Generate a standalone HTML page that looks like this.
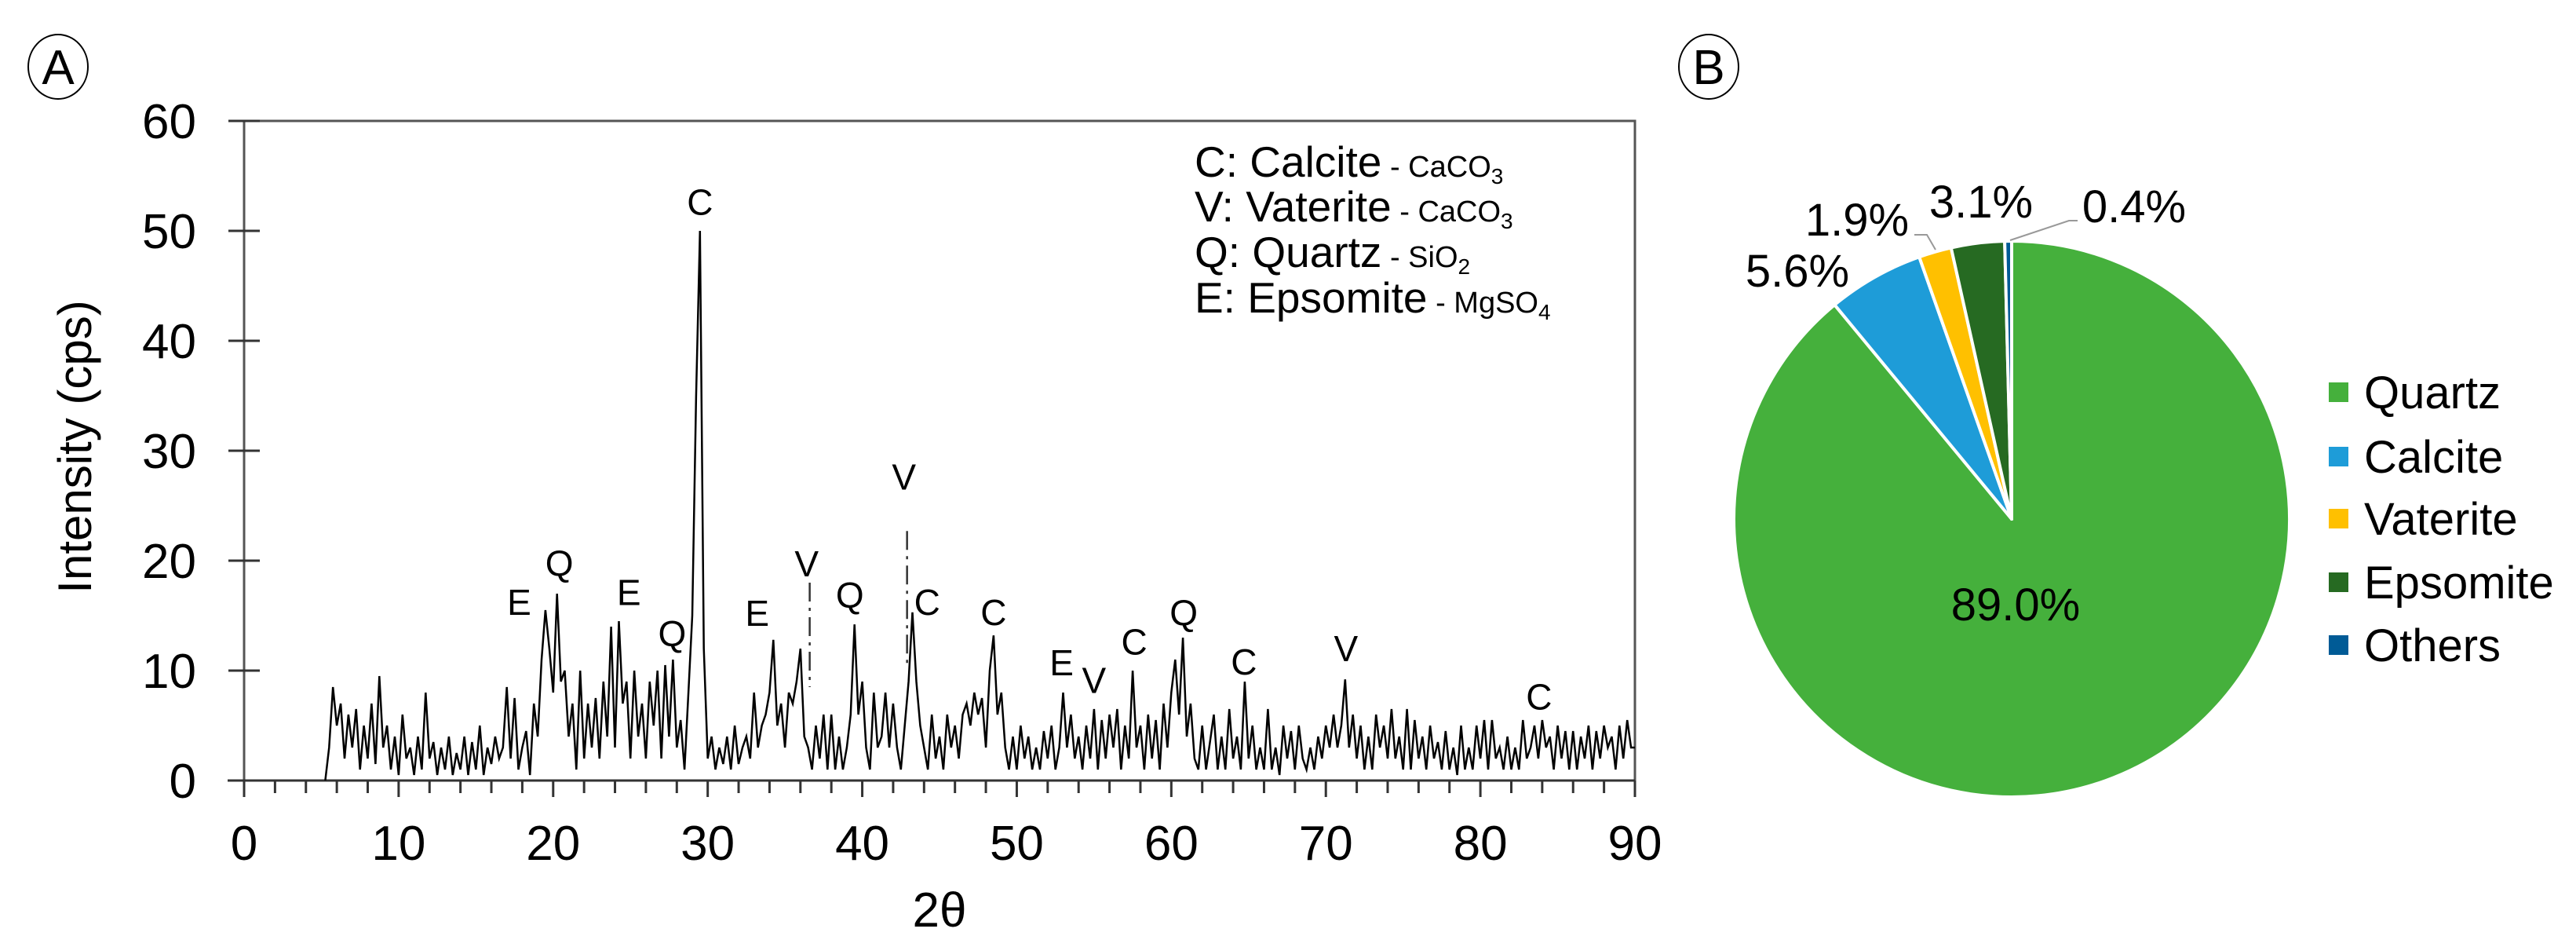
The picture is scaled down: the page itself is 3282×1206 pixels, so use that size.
<!DOCTYPE html>
<html><head><meta charset="utf-8">
<style>
html,body{margin:0;padding:0;background:#fff;}
svg{display:block;font-family:"Liberation Sans",Arial,sans-serif;}
</style></head>
<body>
<svg id="fig" width="3282" height="1206" viewBox="0 0 3282 1206" xmlns="http://www.w3.org/2000/svg">
  <g id="panelA"></g>
  <g id="panelB"></g>
</svg>
<script>
// ---------- Panel A data ----------
const xrdStart = 5.25;
const xrdStep = 0.25;
const xrdIntensity = [
0,3,8.5,5,7,2,6,3,6.5,1,5,2,7,1.5,9.5,3,5,1,4,0.5,6,2,3,0.5,4,1,8,2,3.5,0.5,3,1,4,0.5,2.5,1,4,0.5,3.5,1,5,0.5,3,1.5,4,2,3,8.5,2,7.5,1,3,4.5,0.5,7,4,11,15.5,12,8,17,9,10,4,7,1,10,2,7,3,7.5,2,9,4,14,3,14.5,7,9,2,10,4,7,2,9,5,10,2,10.5,4,11,3,5.5,1,8,15,35,50,12,2,4,1,3,1.5,4,1,5,1.5,3,4,2,8,3,5,6,8,12.8,5,7,3,8,7,9,12,4,3,1,5,2,6,1,6,1,4,1,3,6,14.2,6,9,3,1,8,3,4,8,3,7,3,1,5,9,15.3,9,5,3,1,6,2,4,1,6,3,5,2,6,7,5,8,6,7.5,3,10,13.2,6,8,3,1,4,1,5,2,4,1,3,1,4.5,2,5,1,3,8,3,6,2,4,1,5,2,6.5,1,5.5,2,6,3,6.5,1,5,2,10,3,5,1,6,2,5.5,1,7,3,8,11,6,13,4,7,2,1,5,1,3.5,6,1,4,1,6.5,2,4,1,9,2,5,1,3,1,6.5,1,3,0.5,5,2,4.5,1,5,2,1,3,1,4,2,5,3,6,3,5,9.2,3,6,2,5,1,4,1,6,3,5,2,6.5,2,4,1,6.5,1,5.5,2,4,1,5,2,3.5,1,4.5,1,3,0.5,5,1,3,1,5,2,5.5,1,5.5,2,3,1,4,1,3,1,5.5,2,3,5,2,5.5,3,4,1,5,2,4.5,1,4.5,1,4,2,5,1,4.5,2,5,3,4,1,5,2,5.5,3,3
];
const xTicks = [0,10,20,30,40,50,60,70,80,90];
const yTicks = [0,10,20,30,40,50,60];
const peakLabels = ["C","E","Q","E","Q","E","V","Q","V","C","C","E","V","C","Q","C","V","C"];
const peakPos = [29.5,17.8,20.4,24.9,27.7,33.2,36.4,39.2,42.7,44.2,48.5,52.9,55.0,57.6,60.8,64.7,71.3,83.8];
const peakLabelHeight = [52.6,16.2,19.8,17.1,13.4,15.2,19.7,16.9,27.6,16.2,15.3,10.7,9.1,12.6,15.3,10.8,12.0,7.6];
const markerPos = [36.6,42.9];
const markerTop = [18.0,22.7];
const markerBottom = [8.5,10.4];

// ---------- Panel B data ----------
const pieNames = ["Quartz","Calcite","Vaterite","Epsomite","Others"];
const pieValues = [89.0,5.6,1.9,3.1,0.4];
const pieColors = ["#45b03c","#1e9cd8","#ffc000","#266a22","#005b96"];

const NS = "http://www.w3.org/2000/svg";
function mk(parent, tag, attrs, text){
  const e = document.createElementNS(NS, tag);
  for (const k in attrs) e.setAttribute(k, attrs[k]);
  if (text !== undefined) e.textContent = text;
  parent.appendChild(e);
  return e;
}
const A = document.getElementById('panelA');
const B = document.getElementById('panelB');

const X0 = 311, X1 = 2083, Y0 = 994, Y1 = 154;
const xs = v => X0 + (v/90)*(X1-X0);
const ys = v => Y0 - (v/60)*(Y0-Y1);

let c = mk(A,'ellipse',{cx:74,cy:85,rx:38,ry:41,fill:'none',stroke:'#000','stroke-width':2});


let t = mk(A,'text',{x:74,y:107,'font-size':62,'text-anchor':'middle'},'A');



let fr = mk(A,'rect',{x:X0,y:Y1,width:X1-X0,height:Y0-Y1,fill:'none',stroke:'#555','stroke-width':3});


let xl = mk(A,'line',{x1:290,y1:Y0,x2:X1,y2:Y0,stroke:'#333','stroke-width':3});



yTicks.forEach(v=>{
  const y = ys(v);
  const l = mk(A,'line',{x1:291,y1:y,x2:331,y2:y,stroke:'#333','stroke-width':3});
  
  
  const tx = mk(A,'text',{x:250,y:y+22,'font-size':62,'text-anchor':'end'},String(v));
  
  
});
for (let v=0; v<=90; v+=2){
  const major = (v%10===0);
  const l = mk(A,'line',{x1:xs(v),y1:Y0,x2:xs(v),y2:major?1015:1010,stroke:'#333','stroke-width':3});
  
  
}
xTicks.forEach(v=>{
  const tx = mk(A,'text',{x:xs(v),y:1095,'font-size':62,'text-anchor':'middle'},String(v));
  
  
});
t = mk(A,'text',{x:1197,y:1180,'font-size':62,'text-anchor':'middle'},'2θ');


t = mk(A,'text',{x:0,y:0,'font-size':60,'text-anchor':'middle',transform:'translate(116,569) rotate(-90)'},'Intensity (cps)');



let pts = [];
xrdIntensity.forEach((v,i)=>{
  const x = xrdStart + i*xrdStep;
  pts.push(xs(x).toFixed(1)+','+ys(v).toFixed(1));
});
let tr = mk(A,'polyline',{points:pts.join(' '),fill:'none',stroke:'#000','stroke-width':2.5,'stroke-linejoin':'miter'});



markerPos.forEach((p,i)=>{
  const l = mk(A,'line',{x1:xs(p),y1:ys(markerTop[i]),x2:xs(p),y2:ys(markerBottom[i]),stroke:'#333','stroke-width':2.5,'stroke-dasharray':'24 8 4 8'});
  
  
});

peakLabels.forEach((s,i)=>{
  const tx = mk(A,'text',{x:xs(peakPos[i]),y:ys(peakLabelHeight[i])+16,'font-size':46,'text-anchor':'middle'},s);
  
  
});

const legRows = [["C: Calcite"," - CaCO","3"],["V: Vaterite"," - CaCO","3"],["Q: Quartz"," - SiO","2"],["E: Epsomite"," - MgSO","4"]];
const legY = [225,282,340,398];
legRows.forEach((r,i)=>{
  const tx = mk(A,'text',{x:1522,y:legY[i],'font-size':55});
  
  
  mk(tx,'tspan',{},r[0]);
  mk(tx,'tspan',{'font-size':38},r[1]);
  mk(tx,'tspan',{'font-size':28,dy:9},r[2]);
});

c = mk(B,'ellipse',{cx:2177,cy:85,rx:38,ry:41,fill:'none',stroke:'#000','stroke-width':2});


t = mk(B,'text',{x:2177,y:107,'font-size':62,'text-anchor':'middle'},'B');



const CX = 2563, CY = 661, R = 354;
const total = pieValues.reduce((a,b)=>a+b,0);
let ang = 0;
pieValues.forEach((v,i)=>{
  const a0 = ang, a1 = ang + v/total*2*Math.PI;
  ang = a1;
  const p0 = [CX+R*Math.sin(a0), CY-R*Math.cos(a0)];
  const p1 = [CX+R*Math.sin(a1), CY-R*Math.cos(a1)];
  const large = (a1-a0) > Math.PI ? 1 : 0;
  const d = `M${CX},${CY} L${p0[0].toFixed(1)},${p0[1].toFixed(1)} A${R},${R} 0 ${large} 1 ${p1[0].toFixed(1)},${p1[1].toFixed(1)} Z`;
  const s = mk(B,'path',{d:d,fill:pieColors[i],stroke:'#fff','stroke-width':4,'stroke-linejoin':'round'});
  
  
});

const labelPos = [[2568,790],[2290,365],[2366,300],[2524,277],[2719,283]];
pieValues.forEach((v,i)=>{
  const tx = mk(B,'text',{x:labelPos[i][0],y:labelPos[i][1],'font-size':58,'text-anchor':'middle'},v.toFixed(1)+'%');
  
  
});
let ld = mk(B,'polyline',{points:'2439,299 2455,299 2466,318',fill:'none',stroke:'#999','stroke-width':2});


ld = mk(B,'polyline',{points:'2647,281 2636,281 2561,306',fill:'none',stroke:'#999','stroke-width':2});



const legPY = [499,581,660,741,821];
pieNames.forEach((n,i)=>{
  const r = mk(B,'rect',{x:2967,y:legPY[i]-12,width:25,height:25,fill:pieColors[i]});
  
  
  const tx = mk(B,'text',{x:3012,y:legPY[i]+21,'font-size':58},n);
  
  
});
</script>
</body></html>
